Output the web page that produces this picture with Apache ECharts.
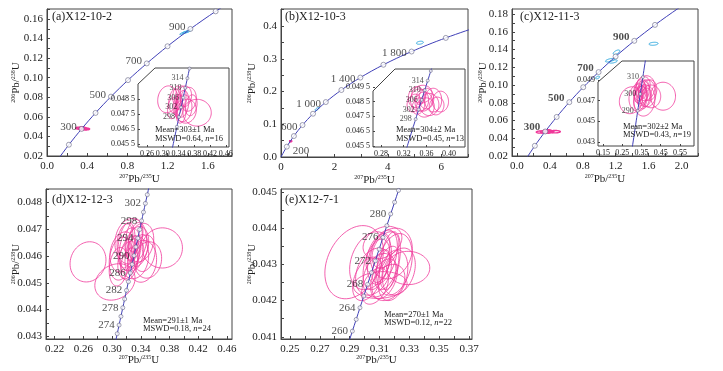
<!DOCTYPE html>
<html>
<head>
<meta charset="utf-8">
<title>U-Pb concordia</title>
<script src="https://cdn.jsdelivr.net/npm/echarts@6/dist/echarts.min.js"></script>
<style>
  html, body { margin: 0; padding: 0; background: #fff; }
  #main { width: 723px; height: 371px; }
</style>
</head>
<body>
<div id="main"></div>
<script>
// concordia reference points [age Ma, 207Pb/235U, 206Pb/238U]
var concordiaOld = [
  [0, 0, 0], [100, 0.1035, 0.01563], [200, 0.2177, 0.03152], [300, 0.3437, 0.04764],
  [400, 0.4828, 0.06402], [500, 0.6362, 0.08066], [600, 0.8057, 0.09754], [700, 0.9925, 0.11459],
  [800, 1.1987, 0.13213], [900, 1.4263, 0.14983], [1000, 1.6774, 0.16780], [1100, 1.9545, 0.18606],
  [1200, 2.2602, 0.20459], [1300, 2.5977, 0.22343], [1400, 2.9702, 0.24258], [1500, 3.3810, 0.26199],
  [1600, 3.8345, 0.28173], [1700, 4.3348, 0.30176], [1800, 4.8871, 0.32210], [1900, 5.4962, 0.34276],
  [2000, 6.1689, 0.36375], [2100, 6.9105, 0.38508], [2200, 7.7296, 0.40672]
];
var concordiaYoung = [
  [256, 0.28675, 0.040511], [258, 0.28929, 0.040834], [260, 0.29183, 0.041157], [262, 0.29438, 0.041480],
  [264, 0.29693, 0.041803], [266, 0.29949, 0.042126], [268, 0.30205, 0.042450], [270, 0.30462, 0.042773],
  [272, 0.30719, 0.043097], [274, 0.30977, 0.043420], [276, 0.31235, 0.043744], [278, 0.31494, 0.044068],
  [280, 0.31753, 0.044392], [282, 0.32013, 0.044716], [284, 0.32273, 0.045040], [286, 0.32534, 0.045365],
  [288, 0.32795, 0.045689], [290, 0.33057, 0.046013], [292, 0.33318, 0.046338], [294, 0.33582, 0.046663],
  [296, 0.33845, 0.046987], [298, 0.34109, 0.047312], [300, 0.34374, 0.047637], [302, 0.34639, 0.047962],
  [304, 0.34904, 0.048287], [306, 0.35170, 0.048613], [308, 0.35437, 0.048938], [310, 0.35704, 0.049264],
  [312, 0.35971, 0.049589], [314, 0.36239, 0.049915], [316, 0.36508, 0.050241], [318, 0.36777, 0.050567],
  [320, 0.37047, 0.050892], [322, 0.37317, 0.051219]
];

// markers / labelled ages on each diagram
var aMarks = [200, 300, 400, 500, 600, 700, 800, 900, 1000];
var aLabels = [300, 500, 700, 900];
var bMarks = [200, 400, 600, 800, 1000, 1200, 1400, 1600, 1800, 2000];
var bLabels = [200, 600, 1000, 1400, 1800];
var cMarks = [200, 300, 400, 500, 600, 700, 800, 900, 1000];
var cLabels = [300, 500, 700, 900];
var abInsetMarks = [294, 298, 302, 306, 310, 314, 318];
var abInsetLabels = [298, 302, 306, 310, 314];
var cInsetMarks = [280, 290, 300, 310, 320];
var cInsetLabels = [290, 300, 310, 320];
var dMarks = [270, 272, 274, 276, 278, 280, 282, 284, 286, 288, 290, 292, 294, 296, 298, 300, 302, 304, 306];
var dLabels = [274, 278, 282, 286, 290, 294, 298, 302];
var eMarks = [256, 258, 260, 262, 264, 266, 268, 270, 272, 274, 276, 278, 280, 282, 284, 286];
var eLabels = [260, 264, 268, 272, 276, 280];

// analyses: [207Pb/235U, 206Pb/238U, half-width x, half-height y, rho]
var spotsA = [
  [0.387, 0.04760, 0.036, 0.00090, 0.0], [0.360, 0.04770, 0.025, 0.00080, 0.1],
  [0.312, 0.04850, 0.025, 0.00090, 0.1], [0.330, 0.04840, 0.015, 0.00080, 0.2],
  [0.338, 0.04810, 0.012, 0.00070, 0.3], [0.345, 0.04860, 0.014, 0.00080, 0.2],
  [0.350, 0.04820, 0.016, 0.00090, 0.2], [0.355, 0.04870, 0.018, 0.00070, 0.1],
  [0.342, 0.04780, 0.010, 0.00060, 0.3], [0.325, 0.04790, 0.013, 0.00070, 0.2],
  [0.365, 0.04850, 0.020, 0.00080, 0.1], [0.347, 0.04750, 0.012, 0.00060, 0.3],
  [0.335, 0.04880, 0.010, 0.00060, 0.3], [0.352, 0.04790, 0.022, 0.00090, 0.1],
  [0.372, 0.04810, 0.015, 0.00070, 0.2], [0.340, 0.04830, 0.008, 0.00050, 0.4]
];
var inheritedA = [[1.370, 0.1462, 0.050, 0.0020, 0.9], [1.392, 0.1470, 0.045, 0.0017, 0.9]];
var spotsB = [
  [0.342, 0.04880, 0.014, 0.00070, 0.1], [0.348, 0.04860, 0.016, 0.00075, 0.0],
  [0.355, 0.04850, 0.015, 0.00065, 0.1], [0.360, 0.04870, 0.013, 0.00070, 0.0],
  [0.338, 0.04840, 0.012, 0.00060, 0.2], [0.352, 0.04900, 0.018, 0.00060, 0.1],
  [0.365, 0.04830, 0.017, 0.00075, 0.0], [0.372, 0.04860, 0.015, 0.00080, 0.0],
  [0.385, 0.04850, 0.014, 0.00070, 0.0], [0.346, 0.04820, 0.011, 0.00055, 0.2],
  [0.358, 0.04810, 0.016, 0.00065, 0.1], [0.350, 0.04880, 0.009, 0.00050, 0.3],
  [0.378, 0.04820, 0.013, 0.00060, 0.1]
];
var inheritedB = [[1.35, 0.1465, 0.075, 0.0046, 0.7], [5.20, 0.3490, 0.130, 0.0046, 0.3]];
var spotsC = [
  [0.462, 0.04742, 0.065, 0.00135, 0.0], [0.295, 0.04703, 0.060, 0.00130, 0.1],
  [0.350, 0.04780, 0.040, 0.00110, 0.2], [0.360, 0.04760, 0.035, 0.00140, 0.1],
  [0.340, 0.04800, 0.030, 0.00100, 0.2], [0.370, 0.04820, 0.050, 0.00120, 0.1],
  [0.355, 0.04740, 0.025, 0.00090, 0.3], [0.380, 0.04770, 0.045, 0.00130, 0.0],
  [0.345, 0.04720, 0.035, 0.00120, 0.2], [0.365, 0.04700, 0.055, 0.00150, 0.1],
  [0.335, 0.04760, 0.020, 0.00080, 0.3], [0.390, 0.04800, 0.040, 0.00100, 0.1],
  [0.352, 0.04810, 0.018, 0.00070, 0.3], [0.372, 0.04730, 0.030, 0.00090, 0.2],
  [0.360, 0.04850, 0.035, 0.00080, 0.1], [0.330, 0.04730, 0.045, 0.00130, 0.1],
  [0.400, 0.04740, 0.050, 0.00110, 0.0], [0.348, 0.04760, 0.012, 0.00060, 0.4],
  [0.362, 0.04790, 0.015, 0.00070, 0.3]
];
var inheritedC = [
  [1.66, 0.1465, 0.055, 0.0017, 0.2], [1.21, 0.1370, 0.040, 0.0025, 0.6],
  [1.13, 0.1280, 0.055, 0.0020, 0.6], [1.17, 0.1265, 0.050, 0.0018, 0.5],
  [0.98, 0.1085, 0.025, 0.0015, 0.5]
];
var spotsD = [
  [0.2665, 0.04578, 0.025, 0.00075, 0.1], [0.3700, 0.04630, 0.028, 0.00075, 0.0],
  [0.3500, 0.04585, 0.019, 0.00068, 0.1], [0.3040, 0.04503, 0.028, 0.00068, 0.2],
  [0.3200, 0.04640, 0.012, 0.00085, 0.3], [0.3250, 0.04625, 0.015, 0.00080, 0.2],
  [0.3300, 0.04660, 0.012, 0.00078, 0.3], [0.3350, 0.04640, 0.016, 0.00070, 0.2],
  [0.3280, 0.04600, 0.010, 0.00065, 0.3], [0.3380, 0.04620, 0.012, 0.00060, 0.4],
  [0.3150, 0.04615, 0.018, 0.00075, 0.2], [0.3220, 0.04585, 0.014, 0.00070, 0.3],
  [0.3310, 0.04595, 0.020, 0.00080, 0.1], [0.3400, 0.04650, 0.018, 0.00072, 0.2],
  [0.3180, 0.04660, 0.011, 0.00060, 0.3], [0.3330, 0.04670, 0.010, 0.00055, 0.4],
  [0.3260, 0.04655, 0.022, 0.00085, 0.1], [0.3120, 0.04590, 0.016, 0.00080, 0.2],
  [0.3450, 0.04610, 0.015, 0.00068, 0.2], [0.3360, 0.04600, 0.008, 0.00050, 0.5],
  [0.3240, 0.04570, 0.012, 0.00060, 0.3], [0.3290, 0.04630, 0.007, 0.00045, 0.5],
  [0.3420, 0.04580, 0.020, 0.00078, 0.1], [0.3090, 0.04560, 0.013, 0.00072, 0.2]
];
var spotsE = [
  [0.2930, 0.04306, 0.0196, 0.00101, 0.3], [0.3292, 0.04290, 0.0145, 0.00046, 0.0],
  [0.3105, 0.04243, 0.0180, 0.00037, 0.1], [0.3080, 0.04300, 0.0090, 0.00070, 0.4],
  [0.3120, 0.04320, 0.0100, 0.00075, 0.4], [0.3150, 0.04290, 0.0080, 0.00060, 0.5],
  [0.3100, 0.04270, 0.0110, 0.00060, 0.3], [0.3170, 0.04310, 0.0070, 0.00080, 0.4],
  [0.3060, 0.04280, 0.0120, 0.00065, 0.3], [0.3140, 0.04340, 0.0090, 0.00050, 0.4],
  [0.3190, 0.04270, 0.0100, 0.00070, 0.3], [0.3110, 0.04295, 0.0060, 0.00045, 0.5],
  [0.3040, 0.04310, 0.0140, 0.00080, 0.3], [0.3200, 0.04300, 0.0120, 0.00085, 0.3],
  [0.3130, 0.04260, 0.0090, 0.00055, 0.4], [0.3090, 0.04330, 0.0080, 0.00055, 0.5],
  [0.3160, 0.04250, 0.0110, 0.00050, 0.3], [0.3020, 0.04260, 0.0100, 0.00060, 0.4],
  [0.3180, 0.04330, 0.0140, 0.00070, 0.2], [0.3070, 0.04240, 0.0090, 0.00050, 0.4],
  [0.3230, 0.04280, 0.0110, 0.00065, 0.3], [0.3120, 0.04360, 0.0130, 0.00045, 0.3]
];

// tick values
var aXTicks = [0, 0.4, 0.8, 1.2, 1.6];
var aYTicks = [0.02, 0.04, 0.06, 0.08, 0.10, 0.12, 0.14, 0.16];
var bXTicks = [0, 2, 4, 6];
var bYTicks = [0, 0.1, 0.2, 0.3, 0.4];
var cXTicks = [0, 0.4, 0.8, 1.2, 1.6, 2.0];
var cYTicks = [0.02, 0.04, 0.06, 0.08, 0.10, 0.12, 0.14, 0.16, 0.18];
var dXTicks = [0.22, 0.26, 0.30, 0.34, 0.38, 0.42, 0.46];
var dYTicks = [0.043, 0.044, 0.045, 0.046, 0.047, 0.048];
var eXTicks = [0.25, 0.27, 0.29, 0.31, 0.33, 0.35, 0.37];
var eYTicks = [0.041, 0.042, 0.043, 0.044, 0.045];
var aInXTicks = [0.26, 0.30, 0.34, 0.38, 0.42, 0.46];
var aInYTicks = [0.0455, 0.0465, 0.0475, 0.0485];
var bInXTicks = [0.28, 0.32, 0.36, 0.40];
var bInYTicks = [0.0455, 0.0465, 0.0475, 0.0485, 0.0495];
var cInXTicks = [0.15, 0.25, 0.35, 0.45, 0.55];
var cInYTicks = [0.043, 0.045, 0.047, 0.049];

var SERIF = 'Liberation Serif';
var INK = '#222';
var FRAME = '#444';
var CURVE = '#4040b8';
var PINK = '#f0389a';
var CYAN = '#2aa8e0';

var chart = echarts.init(document.getElementById('main'));

// plot boxes [left, top, width, height]
var boxes = [
  [47, 9, 185, 147], [281, 9, 187, 148], [512, 9, 186, 147],
  [46, 189, 186, 150], [281, 189, 191, 150],
  [138, 68, 91, 79], [373, 69, 92, 78], [598, 61, 96, 85]
];
// inset corner cut [dx, dy]
var cuts = [[17, 16], [22, 22], [24, 21]];

var grids = boxes.map(function (b, i) {
  return { left: b[0], top: b[1], width: b[2], height: b[3], show: i < 5,
    borderColor: FRAME, borderWidth: 1, backgroundColor: 'transparent', outerBoundsMode: 'none' };
});

function fix(n) { return function (v) { return v.toFixed(n); }; }
function spaced(v) { var s = v.toFixed(4); return s.slice(0, 5) + ' ' + s.slice(5); }

// major ticks plus a minor tick halfway between them
function withMinor(ticks, min, max) {
  var step = ticks[1] - ticks[0], out = ticks.slice();
  for (var v = ticks[0] - step / 2; v <= max; v += step) {
    if (v >= min) out.push(v);
  }
  return out;
}

var xName = '{s|207}Pb/{s|235}U';
var yName = '{s|206}Pb/{s|238}U';
function nameStyle() {
  return { fontFamily: SERIF, fontSize: 11, color: INK,
    rich: { s: { fontFamily: SERIF, fontSize: 6, color: INK, padding: [0, 0, 6, 0] } } };
}

function xAxis(g, min, max, ticks, fmt, inset, gap) {
  return {
    gridIndex: g, type: 'value', min: min, max: max, z: inset ? 8 : 2,
    axisLine: { show: !inset, onZero: false, lineStyle: { color: FRAME, width: 1 } },
    axisTick: { show: true, inside: true, length: inset ? 2 : 3,
      customValues: inset ? ticks : withMinor(ticks, min, max), lineStyle: { color: FRAME } },
    axisLabel: { customValues: ticks, formatter: fmt, margin: inset ? 3 : 5, color: INK,
      fontFamily: SERIF, fontSize: inset ? 8 : 11 },
    splitLine: { show: false },
    name: inset ? '' : xName, nameLocation: 'middle', nameGap: gap, nameMoveOverlap: false,
    nameTextStyle: nameStyle()
  };
}
function yAxis(g, min, max, ticks, fmt, inset, gap) {
  return {
    gridIndex: g, type: 'value', min: min, max: max, z: inset ? 8 : 2,
    axisLine: { show: !inset, onZero: false, lineStyle: { color: FRAME, width: 1 } },
    axisTick: { show: true, inside: true, length: inset ? 2 : 3,
      customValues: inset ? ticks : withMinor(ticks, min, max), lineStyle: { color: FRAME } },
    axisLabel: { customValues: ticks, formatter: fmt, margin: inset ? 3 : 4, color: INK,
      fontFamily: SERIF, fontSize: inset ? 8 : 11 },
    splitLine: { show: false },
    name: inset ? '' : yName, nameLocation: 'middle', nameRotate: 90, nameGap: gap, nameMoveOverlap: false,
    nameTextStyle: nameStyle()
  };
}

var xAxes = [
  xAxis(0, 0, 1.84, aXTicks, fix(1), false, 17),
  xAxis(1, 0, 7, bXTicks, fix(0), false, 17),
  xAxis(2, -0.06, 2.2, cXTicks, fix(1), false, 17),
  xAxis(3, 0.208, 0.467, dXTicks, fix(2), false, 15),
  xAxis(4, 0.244, 0.372, eXTicks, fix(2), false, 15),
  xAxis(5, 0.237, 0.468, aInXTicks, fix(2), true),
  xAxis(6, 0.266, 0.428, bInXTicks, fix(2), true),
  xAxis(7, 0.124, 0.623, cInXTicks, fix(2), true)
];
var yAxes = [
  yAxis(0, 0.02, 0.1702, aYTicks, fix(2), false, 25),
  yAxis(1, 0, 0.452, bYTicks, fix(1), false, 23),
  yAxis(2, 0.02, 0.1857, cYTicks, fix(2), false, 23),
  yAxis(3, 0.0429, 0.0485, dYTicks, fix(3), false, 24),
  yAxis(4, 0.04094, 0.04508, eYTicks, fix(3), false, 23),
  yAxis(5, 0.0453, 0.0506, aInYTicks, spaced, true),
  yAxis(6, 0.04543, 0.0507, bInYTicks, spaced, true),
  yAxis(7, 0.04261, 0.05082, cInYTicks, fix(3), true)
];

function ellipseRenderer(color, width) {
  return function (params, api) {
    var cx = api.value(0), cy = api.value(1), sx = api.value(2), sy = api.value(3), r = api.value(4);
    var k = Math.sqrt(1 - r * r), pts = [];
    for (var i = 0; i < 72; i++) {
      var t = Math.PI * 2 * i / 72;
      pts.push(api.coord([cx + sx * Math.cos(t), cy + sy * (r * Math.cos(t) + k * Math.sin(t))]));
    }
    return { type: 'polygon', shape: { points: pts }, style: { fill: 'none', stroke: color, lineWidth: width } };
  };
}

function ellipses(g, list, color, z, width) {
  return { type: 'custom', xAxisIndex: g, yAxisIndex: g, data: list, encode: { x: 0, y: 1 },
    renderItem: ellipseRenderer(color, width || 0.8), clip: true, silent: true, z: z };
}

function curve(g, pts, z) {
  return { type: 'line', xAxisIndex: g, yAxisIndex: g, smooth: 0.3, symbol: 'none', silent: true, z: z,
    data: pts.map(function (p) { return [p[1], p[2]]; }),
    lineStyle: { color: CURVE, width: 1 } };
}

function ageText(a) { return a >= 1000 ? String(a).replace(/(\d{3})$/, ' $1') : String(a); }

function markers(g, pts, marks, labels, z, size, fontSize, offset, bold) {
  var data = pts.filter(function (p) { return marks.indexOf(p[0]) >= 0; })
    .map(function (p) { return [p[1], p[2], p[0]]; });
  return { type: 'scatter', xAxisIndex: g, yAxisIndex: g, data: data, symbol: 'circle', symbolSize: size,
    silent: true, z: z, clip: true,
    itemStyle: { color: '#fff', borderColor: '#6a6a88', borderWidth: 0.8 },
    label: { show: true, position: 'left', distance: 2, offset: offset || [0, 0], color: INK,
      fontFamily: SERIF, fontSize: fontSize, fontWeight: bold ? 'bold' : 'normal',
      formatter: function (p) { return labels.indexOf(p.value[2]) >= 0 ? ageText(p.value[2]) : ''; } } };
}

var series = [
  // (a)
  ellipses(0, spotsA, PINK, 2, 1.6), ellipses(0, inheritedA, CYAN, 2, 1),
  curve(0, concordiaOld, 3), markers(0, concordiaOld, aMarks, aLabels, 4, 5, 11, [0, -2]),
  // (b)
  ellipses(1, spotsB, PINK, 2, 1.6), ellipses(1, inheritedB, CYAN, 2, 1),
  curve(1, concordiaOld, 3), markers(1, concordiaOld, bMarks, bLabels, 4, 5, 11, [0, 2]),
  // (c)
  ellipses(2, spotsC, PINK, 2, 1.4), ellipses(2, inheritedC, CYAN, 2, 1),
  curve(2, concordiaOld, 3), markers(2, concordiaOld, cMarks, cLabels, 4, 5, 11, [0, -4], true),
  // (d)
  ellipses(3, spotsD, PINK, 2), curve(3, concordiaYoung, 3),
  markers(3, concordiaYoung, dMarks, dLabels, 4, 4, 11, [0, 0]),
  // (e)
  ellipses(4, spotsE, PINK, 2), curve(4, concordiaYoung, 3),
  markers(4, concordiaYoung, eMarks, eLabels, 4, 4, 11, [0, 0]),
  // insets
  ellipses(5, spotsA, PINK, 7), curve(5, concordiaYoung, 8),
  markers(5, concordiaYoung, abInsetMarks, abInsetLabels, 9, 3, 8, [0, 0]),
  ellipses(6, spotsB, PINK, 7), curve(6, concordiaYoung, 8),
  markers(6, concordiaYoung, abInsetMarks, abInsetLabels, 9, 3, 8, [0, 0]),
  ellipses(7, spotsC, PINK, 7), curve(7, concordiaYoung, 8),
  markers(7, concordiaYoung, cInsetMarks, cInsetLabels, 9, 3, 8, [0, 0])
];
// the 200 Ma label in (b) sits right of its marker
series[7].data.forEach(function (d, i) {
  if (d[2] === 200) series[7].data[i] = { value: d, label: { position: 'right', offset: [1, 4] } };
});

var graphics = [];
for (var i = 0; i < 3; i++) {
  var b = boxes[5 + i], c = cuts[i];
  var l = b[0], t = b[1], r = b[0] + b[2], btm = b[1] + b[3];
  graphics.push({ type: 'polygon', z: 5, silent: true,
    shape: { points: [[l, t + c[1]], [l + c[0], t], [r, t], [r, btm], [l, btm]] },
    style: { fill: '#fff', stroke: FRAME, lineWidth: 1 } });
}
function label(x, y, text, size) {
  return { type: 'text', x: x, y: y, z: 20, silent: true,
    style: { text: text, fontFamily: SERIF, fontSize: size, fill: INK, verticalAlign: 'middle',
      rich: { i: { fontFamily: SERIF, fontSize: size, fontStyle: 'italic', fill: INK } } } };
}
graphics.push(
  label(52, 17, '(a)X12-10-2', 12), label(285, 17, '(b)X12-10-3', 12), label(520, 17, '(c)X12-11-3', 12),
  label(52, 200, '(d)X12-12-3', 12), label(285, 200, '(e)X12-7-1', 12),
  label(155, 130, 'Mean=303±1 Ma', 8.5), label(155, 139, 'MSWD=0.64, {i|n}=16', 8.5),
  label(396, 130, 'Mean=304±2 Ma', 8.5), label(396, 139, 'MSWD=0.45, {i|n}=13', 8.5),
  label(623, 127, 'Mean=302±2 Ma', 8.5), label(623, 135, 'MSWD=0.43, {i|n}=19', 8.5),
  label(143, 321, 'Mean=291±1 Ma', 8.5), label(143, 329, 'MSWD=0.18, {i|n}=24', 8.5),
  label(384, 315, 'Mean=270±1 Ma', 8.5), label(384, 323, 'MSWD=0.12, {i|n}=22', 8.5)
);

chart.setOption({
  animation: false,
  backgroundColor: '#fff',
  grid: grids,
  xAxis: xAxes,
  yAxis: yAxes,
  series: series,
  graphic: graphics
});
</script>
</body>
</html>
